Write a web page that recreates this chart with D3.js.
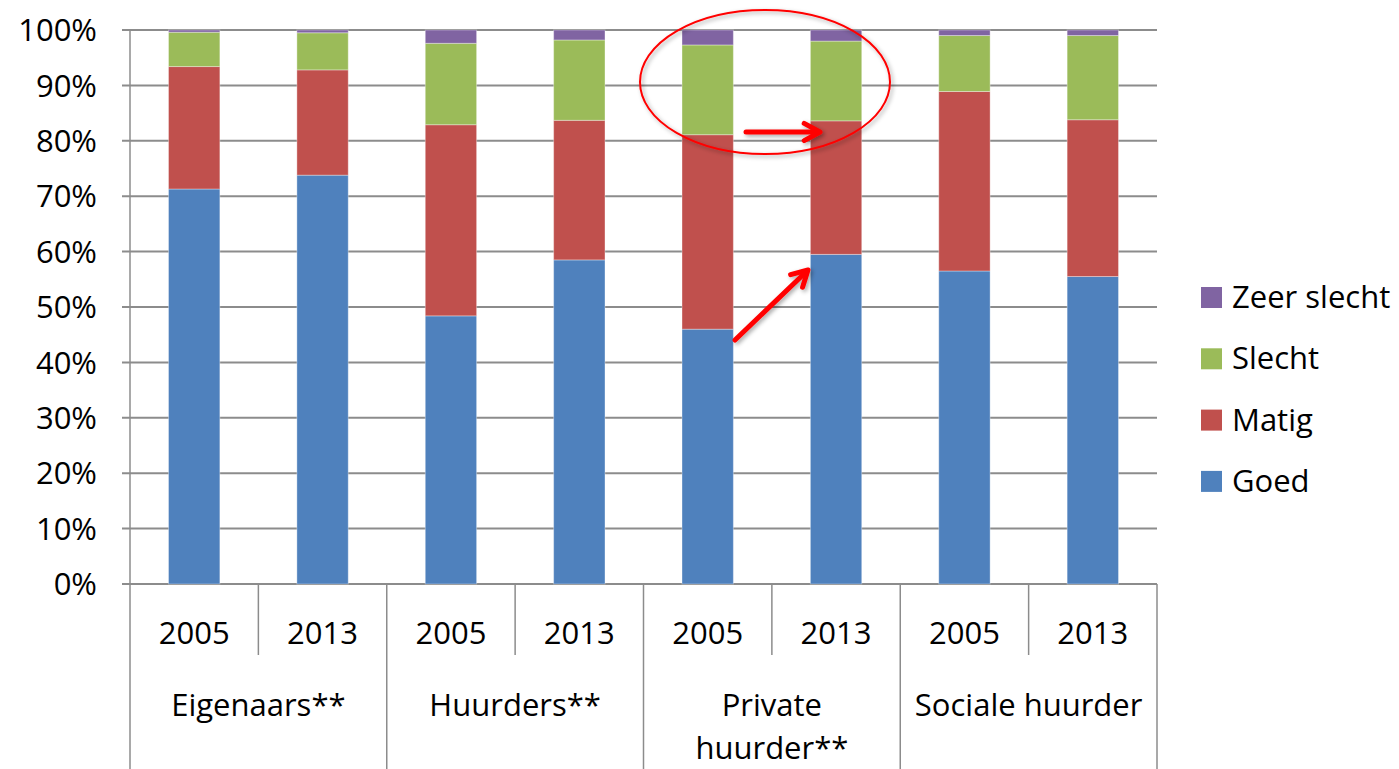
<!DOCTYPE html>
<meta charset="utf-8">
<style>
body { margin: 0; background: #fff; }
svg { display: block; font-family: "Open Sans", sans-serif; }
.grid line { stroke: #8c8c8c; stroke-width: 2px; }
.sep { stroke: #8c8c8c; stroke-width: 1.5px; }
.lbl { font-size: 31px; fill: #000; }
</style>
<body>
<svg width="1399" height="769"></svg>
<script src="https://d3js.org/d3.v7.min.js"></script>
<script>

var groups = ["Eigenaars**", "Huurders**", "Private huurder**", "Sociale huurder"];
var years = ["2005", "2013"];
var series = ["Goed", "Matig", "Slecht", "Zeer slecht"];
var colors = ["#4f81bd", "#c0504d", "#9bbb59", "#8064a2"];

// one value per bar, in order group/year (%)
var goed       = [71.3, 73.8, 48.4, 58.5, 46.0, 59.5, 56.5, 55.5];
var matig      = [22.1, 19.0, 34.5, 25.2, 35.1, 24.1, 32.4, 28.3];
var slecht     = [ 6.2,  6.7, 14.7, 14.5, 16.2, 14.4, 10.1, 15.2];
var zeerSlecht = [ 0.4,  0.5,  2.4,  1.8,  2.7,  2.0,  1.0,  1.0];

var yTicks = [0, 10, 20, 30, 40, 50, 60, 70, 80, 90, 100];

var rows = [];
groups.forEach(function(g, gi) {
  years.forEach(function(yr, yi) {
    var i = gi * 2 + yi;
    rows.push({key: g + "|" + yr, group: g, year: yr,
      "Goed": goed[i], "Matig": matig[i], "Slecht": slecht[i], "Zeer slecht": zeerSlecht[i]});
  });
});

var pLeft = 130, pRight = 1157, pTop = 30, pBottom = 584;

var x = d3.scaleBand()
    .domain(rows.map(function(d) { return d.key; }))
    .range([pLeft, pRight])
    .paddingInner(0.6)
    .paddingOuter(0.3);

var gx = d3.scaleBand().domain(groups).range([pLeft, pRight]);

var y = d3.scaleLinear().domain([0, 100]).range([pBottom, pTop]);

var color = d3.scaleOrdinal().domain(series).range(colors);

var svg = d3.select("svg");

// gridlines
svg.append("g").attr("class", "grid")
  .selectAll("line").data(yTicks).enter().append("line")
    .attr("x1", pLeft - 8).attr("x2", pRight)
    .attr("y1", function(d) { return y(d); })
    .attr("y2", function(d) { return y(d); });

// y labels
svg.append("g").selectAll("text").data(yTicks).enter().append("text")
    .attr("class", "lbl")
    .attr("x", 97)
    .attr("y", function(d) { return y(d); })
    .attr("dy", "0.36em")
    .attr("text-anchor", "end")
    .text(function(d) { return d + "%"; });

// stacked bars
var stack = d3.stack().keys(series)(rows);

svg.append("g").selectAll("g").data(stack).enter().append("g")
    .attr("fill", function(d) { return color(d.key); })
  .selectAll("rect").data(function(d) { return d; }).enter().append("rect")
    .attr("x", function(d) { return x(d.data.key); })
    .attr("width", x.bandwidth())
    .attr("y", function(d) { return y(d[1]); })
    .attr("height", function(d) { return y(d[0]) - y(d[1]); })
    .attr("stroke", "rgba(255,255,255,0.35)")
    .attr("stroke-width", 1);

// y axis line, runs down through the category area
svg.append("line").attr("class", "sep")
    .attr("x1", pLeft).attr("x2", pLeft).attr("y1", pTop).attr("y2", 769);

// group separators
svg.append("g").selectAll("line").data(groups).enter().append("line")
    .attr("class", "sep")
    .attr("x1", function(d) { return gx(d) + gx.bandwidth(); })
    .attr("x2", function(d) { return gx(d) + gx.bandwidth(); })
    .attr("y1", pBottom).attr("y2", 769);

// year separators
svg.append("g").selectAll("line").data(groups).enter().append("line")
    .attr("class", "sep")
    .attr("x1", function(d) { return gx(d) + gx.bandwidth() / 2; })
    .attr("x2", function(d) { return gx(d) + gx.bandwidth() / 2; })
    .attr("y1", pBottom).attr("y2", 655);

// year labels
svg.append("g").selectAll("text").data(rows).enter().append("text")
    .attr("class", "lbl")
    .attr("x", function(d) { return x(d.key) + x.bandwidth() / 2; })
    .attr("y", 633).attr("dy", "0.36em")
    .attr("text-anchor", "middle")
    .text(function(d) { return d.year; });

// group labels
var groupLines = {"Private huurder**": ["Private", "huurder**"]};
svg.append("g").selectAll("text").data(groups).enter().append("text")
    .attr("class", "lbl")
    .attr("text-anchor", "middle")
  .each(function(d) {
    var t = d3.select(this);
    var lines = groupLines[d] || [d];
    lines.forEach(function(l, i) {
      t.append("tspan").attr("x", gx(d) + gx.bandwidth() / 2)
        .attr("y", 705 + i * 43).attr("dy", "0.36em").text(l);
    });
  });

// legend
var legend = svg.append("g").selectAll("g").data(series.slice().reverse()).enter().append("g")
    .attr("transform", function(d, i) { return "translate(1201," + (297 + i * 61.3) + ")"; });
legend.append("rect")
    .attr("x", 0).attr("y", -10).attr("width", 21).attr("height", 21)
    .attr("fill", function(d) { return color(d); });
legend.append("text")
    .attr("class", "lbl")
    .attr("x", 31).attr("dy", "0.36em")
    .text(function(d) { return d; });

// annotations
var defs = svg.append("defs");
var f = defs.append("filter").attr("id", "sh").attr("x", "-20%").attr("y", "-20%").attr("width", "140%").attr("height", "140%");
f.append("feDropShadow").attr("dx", 2).attr("dy", 2).attr("stdDeviation", 2).attr("flood-color", "#000").attr("flood-opacity", 0.35);

var ann = svg.append("g").attr("filter", "url(#sh)");
ann.append("ellipse")
    .attr("cx", 765).attr("cy", 82).attr("rx", 125).attr("ry", 72)
    .attr("fill", "none").attr("stroke", "#ff0000").attr("stroke-width", 2);

function arrow(x1, y1, x2, y2) {
  var a = Math.atan2(y2 - y1, x2 - x1), h = 18, w = 0.5;
  ann.append("line")
    .attr("x1", x1).attr("y1", y1).attr("x2", x2 - 5 * Math.cos(a)).attr("y2", y2 - 5 * Math.sin(a))
    .attr("stroke", "#ff0000").attr("stroke-width", 5).attr("stroke-linecap", "round");
  ann.append("path")
    .attr("d", "M" + (x2 - h * Math.cos(a - w)) + "," + (y2 - h * Math.sin(a - w)) +
      "L" + x2 + "," + y2 +
      "L" + (x2 - h * Math.cos(a + w)) + "," + (y2 - h * Math.sin(a + w)))
    .attr("fill", "none").attr("stroke", "#ff0000").attr("stroke-width", 5)
    .attr("stroke-linecap", "round").attr("stroke-linejoin", "round");
}
arrow(746, 132, 820, 132);
arrow(735, 340, 808, 270);

</script>
</body>
